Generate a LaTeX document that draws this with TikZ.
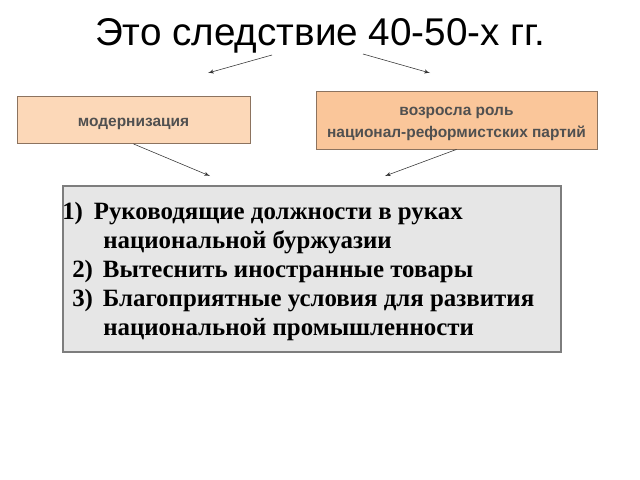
\documentclass[tikz,border=0pt]{standalone}
\usepackage{fontspec}
\setmainfont{Liberation Serif}
\setsansfont{Liberation Sans}
\usetikzlibrary{arrows, calc, positioning}
\definecolor{peachlight}{RGB}{252,216,184}
\definecolor{peachdark}{RGB}{250,198,154}
\definecolor{peachline}{RGB}{140,115,95}
\definecolor{listfill}{RGB}{230,230,230}
\definecolor{listline}{RGB}{125,125,125}
\definecolor{labeltext}{RGB}{80,80,80}
\renewcommand{\arraystretch}{1.19}
\tikzstyle{line} = [draw, black!80, thin, -latex']
\tikzstyle{block} = [rectangle, draw=peachline, line width=0.6pt, inner sep=0pt, font=\sffamily\bfseries\fontsize{11}{13.2}\selectfont, text=labeltext]
\tikzstyle{list} = [rectangle, draw=listline, line width=1.2pt, fill=listfill, inner sep=0pt]

\begin{document}
\begin{tikzpicture}[x=0.025cm, y=-0.025cm]
\useasboundingbox (0,0) rectangle (640,480);
\node [anchor=base, font=\sffamily\fontsize{27.5}{33}\selectfont] (title) at (320,46) {Это следствие 40-50-х гг.};
\node [block, fill=peachlight, text height=12.2pt, text depth=2.3pt, minimum width=5.825cm, minimum height=1.175cm] (modern) at (133.5,120) {модернизация};
\node [block, fill=peachdark, text height=21.4pt, text depth=12.95pt, minimum width=7.025cm, minimum height=1.45cm] (parties) at (456.5,120) {\begin{tabular}{@{}c@{}}возросла роль\\национал-реформистских партий\end{tabular}};
\node [list, minimum width=12.45cm, minimum height=4.15cm] (results) at (312,269) {};
\node [anchor=north west, align=left, inner sep=0pt, font=\bfseries\fontsize{17.7}{20.6}\selectfont] (items) at (62,202) {%
1)\hspace{0.27cm}Руководящие должности в руках\\
\hspace*{1.025cm}национальной буржуазии\\
\hspace*{0.25cm}2)\hspace{0.25cm}Вытеснить иностранные товары\\
\hspace*{0.25cm}3)\hspace{0.25cm}Благоприятные условия для развития\\
\hspace*{1.025cm}национальной промышленности};
\coordinate (tl) at (272,55);
\coordinate (tr) at (363,54);
\coordinate (ml) at (208,73);
\coordinate (mr) at (430,73);
\coordinate (rl) at (210,176);
\coordinate (rr) at (385,176);
\path [line] (tl) -- (ml);
\path [line] (tr) -- (mr);
\path [line] (modern.south) -- (rl);
\path [line] (parties.south) -- (rr);
\end{tikzpicture}
\end{document}
